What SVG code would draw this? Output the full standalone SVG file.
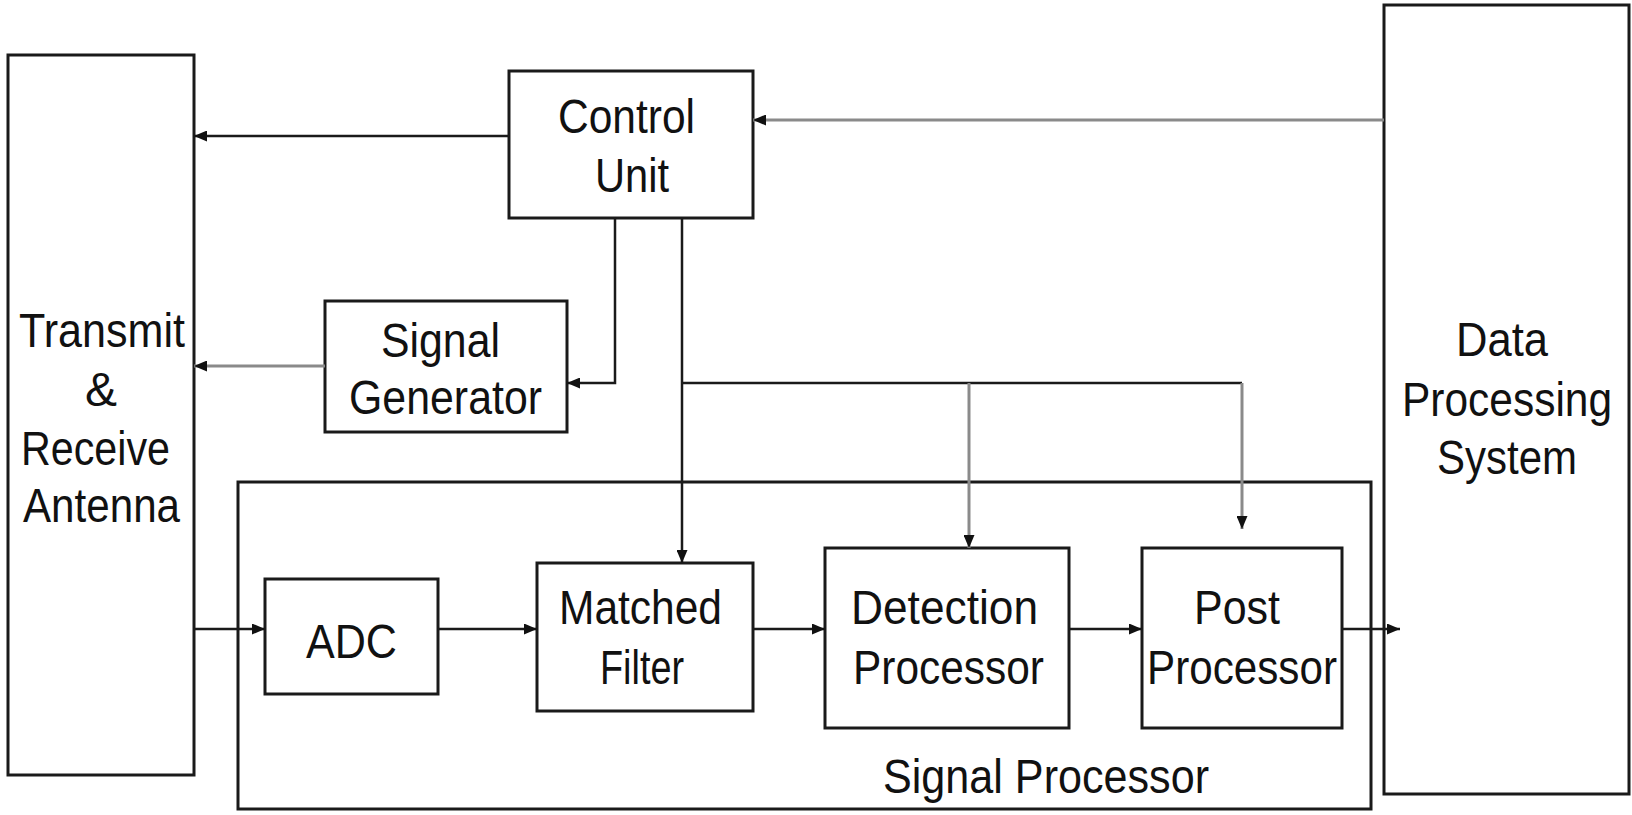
<svg xmlns="http://www.w3.org/2000/svg" width="1632" height="815" viewBox="0 0 1632 815">
  <style>
    .box { fill: #fff; stroke: #1a1a1a; stroke-width: 3; }
    .frame { fill: none; stroke: #1a1a1a; stroke-width: 3; }
    .lbl { font-family: "Liberation Sans", Arial, sans-serif; font-size: 48px; fill: #111; }
    .wire { fill: none; stroke: #1a1a1a; stroke-width: 2.5; }
    .wire-g { fill: none; stroke: #8a8a8a; stroke-width: 3; }
  </style>
  <defs>
    <marker id="ah" viewBox="0 0 13 11" refX="13" refY="5.5" markerWidth="13" markerHeight="11" orient="auto" markerUnits="userSpaceOnUse">
      <path d="M0,0 L13,5.5 L0,11 z" fill="#111"/>
    </marker>
  </defs>
  <rect width="1632" height="815" fill="#fff"/>

  <!-- Signal Processor enclosure -->
  <g id="signal-processor">
    <rect class="frame" x="238" y="482" width="1133" height="327"/>
    <text class="lbl" x="883" y="793" textLength="326" lengthAdjust="spacingAndGlyphs">Signal Processor</text>
  </g>

  <g id="antenna">
    <rect class="box" x="8" y="55" width="186" height="720"/>
    <text class="lbl" x="19" y="347" textLength="166" lengthAdjust="spacingAndGlyphs">Transmit</text>
    <text class="lbl" x="101" y="406" text-anchor="middle">&amp;</text>
    <text class="lbl" x="21" y="465" textLength="149" lengthAdjust="spacingAndGlyphs">Receive</text>
    <text class="lbl" x="23" y="522" textLength="157" lengthAdjust="spacingAndGlyphs">Antenna</text>
  </g>

  <g id="control-unit">
    <rect class="box" x="509" y="71" width="244" height="147"/>
    <text class="lbl" x="558" y="133" textLength="137" lengthAdjust="spacingAndGlyphs">Control</text>
    <text class="lbl" x="595" y="192" textLength="74" lengthAdjust="spacingAndGlyphs">Unit</text>
  </g>

  <g id="signal-generator">
    <rect class="box" x="325" y="301" width="242" height="131"/>
    <text class="lbl" x="381" y="357" textLength="119" lengthAdjust="spacingAndGlyphs">Signal</text>
    <text class="lbl" x="349" y="414" textLength="193" lengthAdjust="spacingAndGlyphs">Generator</text>
  </g>

  <g id="data-processing">
    <rect class="box" x="1384" y="5" width="245" height="789"/>
    <text class="lbl" x="1456" y="356" textLength="92" lengthAdjust="spacingAndGlyphs">Data</text>
    <!-- condensed to fit the narrow column -->
    <text class="lbl" transform="translate(1402,416) scale(0.885,1)">Processing</text>
    <text class="lbl" x="1437" y="474" textLength="140" lengthAdjust="spacingAndGlyphs">System</text>
  </g>

  <g id="adc">
    <rect class="box" x="265" y="579" width="173" height="115"/>
    <text class="lbl" x="306" y="658" textLength="91" lengthAdjust="spacingAndGlyphs">ADC</text>
  </g>

  <g id="matched-filter">
    <rect class="box" x="537" y="563" width="216" height="148"/>
    <text class="lbl" x="559" y="624" textLength="163" lengthAdjust="spacingAndGlyphs">Matched</text>
    <text class="lbl" x="600" y="684" textLength="84" lengthAdjust="spacingAndGlyphs">Filter</text>
  </g>

  <g id="detection-processor">
    <rect class="box" x="825" y="548" width="244" height="180"/>
    <text class="lbl" x="851" y="624" textLength="187" lengthAdjust="spacingAndGlyphs">Detection</text>
    <text class="lbl" x="853" y="684" textLength="191" lengthAdjust="spacingAndGlyphs">Processor</text>
  </g>

  <g id="post-processor">
    <rect class="box" x="1142" y="548" width="200" height="180"/>
    <text class="lbl" x="1194" y="624" textLength="86" lengthAdjust="spacingAndGlyphs">Post</text>
    <text class="lbl" x="1147" y="684" textLength="190" lengthAdjust="spacingAndGlyphs">Processor</text>
  </g>

  <g id="connectors">
    <!-- control paths -->
    <path class="wire" d="M509,136 H194" marker-end="url(#ah)"/>
    <path class="wire-g" d="M1384,120 H753" marker-end="url(#ah)"/>
    <path class="wire-g" d="M325,366 H194" marker-end="url(#ah)"/>
    <path class="wire" d="M615,218 V383 H567" marker-end="url(#ah)"/>
    <path class="wire" d="M682,218 V563" marker-end="url(#ah)"/>
    <path class="wire" d="M682,383 H1242"/>
    <path class="wire-g" d="M969,383 V548" marker-end="url(#ah)"/>
    <path class="wire-g" d="M1242,383 V529" marker-end="url(#ah)"/>
    <!-- signal chain -->
    <path class="wire" d="M194,629 H265" marker-end="url(#ah)"/>
    <path class="wire" d="M438,629 H537" marker-end="url(#ah)"/>
    <path class="wire" d="M753,629 H825" marker-end="url(#ah)"/>
    <path class="wire" d="M1069,629 H1142" marker-end="url(#ah)"/>
    <path class="wire" d="M1342,629 H1400" marker-end="url(#ah)"/>
  </g>
</svg>
